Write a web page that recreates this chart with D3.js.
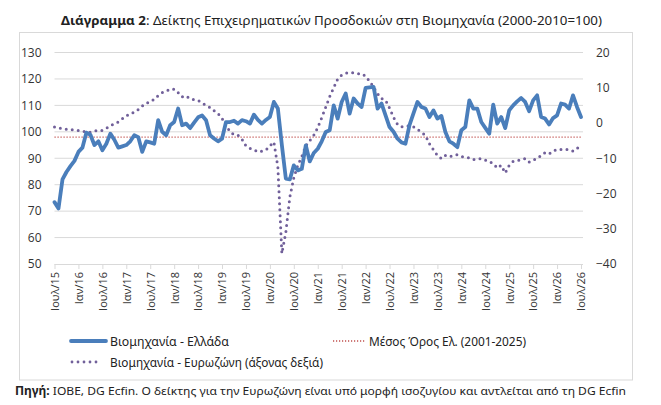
<!DOCTYPE html>
<html>
<head>
<meta charset="utf-8">
<script src="https://cdn.jsdelivr.net/npm/d3@7"></script>
<style>
  body { margin: 0; background: #fff; }
  svg { display: block; }
</style>
</head>
<body>
<div id="chart"></div>
<script>
// tick labels every 6 months, Jul/15 .. Jul/26
const tickLabels = ["Ιουλ/15", "Ιαν/16", "Ιουλ/16", "Ιαν/17", "Ιουλ/17", "Ιαν/18", "Ιουλ/18",
    "Ιαν/19", "Ιουλ/19", "Ιαν/20", "Ιουλ/20", "Ιαν/21", "Ιουλ/21", "Ιαν/22", "Ιουλ/22",
    "Ιαν/23", "Ιουλ/23", "Ιαν/24", "Ιουλ/24", "Ιαν/25", "Ιουλ/25", "Ιαν/26", "Ιουλ/26"];

// monthly values, Greece (left axis)
const greece = [73.4, 71, 82, 84.8, 87, 89, 92.4, 94, 99.7, 98.9, 95, 96.4,
    93, 95.5, 99.3, 97, 94, 94.5, 95, 96.4, 98.7, 98, 92.4, 96.4,
    96, 95.5, 104.4, 100, 98.7, 102.5, 103.7, 108.8, 102.5, 103.1, 101.4, 103.5,
    105.5, 106.2, 104.4, 98.7, 97.5, 96.4, 97.4, 103.7, 103.7, 104.2, 103.1, 104.4,
    104, 103.1, 106.5, 104.5, 103.1, 104.5, 105.6, 111.3, 108.8, 95, 82.3, 82,
    87.3, 85.4, 86, 94.9, 88.8, 92, 93.6, 96.4, 99.9, 100.6, 110, 105,
    111.3, 114.5, 106.9, 112.6, 110.7, 109.4, 116.6, 116.8, 117, 108.8, 110.7, 106.2,
    101.8, 100, 97.4, 96, 95.5, 102.5, 107, 111.3, 109.4, 108.8, 105.6, 108.1,
    105, 106, 99.9, 96.4, 95.5, 94.2, 100.6, 101.8, 111.9, 108.8, 108.8, 103.7,
    101.5, 99.3, 110.3, 103.1, 105.6, 101.4, 108.1, 110, 111.5, 112.8, 111.3, 107.8,
    111.9, 113.8, 105.6, 105, 102.8, 105.2, 106.2, 110.7, 110.3, 108.8, 113.8, 109.4,
    105.6];

// monthly values, Eurozone balance (right axis)
const eurozone = [-1.1, -1.4, -1.6, -1.8, -1.9, -2.0, -2.1, -2.3, -2.5, -2.6, -2.3, -2.1,
    -2.1, -1.5, -0.8, -0.2, 0.3, 1.2, 2.0, 2.7, 3.0, 3.8, 4.8, 5.5,
    6.2, 6.7, 7.8, 8.6, 9.0, 9.6, 9.6, 8.6, 7.4, 7.7, 6.9, 6.6,
    6.4, 5.7, 5.0, 4.4, 3.5, 2.7, 1.3, -0.6, -2.5, -3.3, -3.5, -4.6,
    -6.5, -7.2, -7.6, -8.2, -8.0, -7.7, -6.5, -5.4, -12.5, -37, -31, -21,
    -15.5, -12, -9.5, -6.5, -5, -3.5, -1.3, 1.5, 4.5, 7.5, 10, 12.5,
    13.6, 14.1, 14.3, 14.2, 14.0, 14.0, 13.3, 11.8, 10.2, 8.3, 6.9, 6.5,
    4.2, 1.6, -0.4, -1.1, -1.0, -0.8, -1.1, -1.8, -2.6, -3.5, -5.9, -7.6,
    -9.2, -10.1, -9.2, -9.6, -9.2, -9.0, -9.5, -9.7, -9.9, -10.4, -10.3, -10.1,
    -10.5, -11.0, -11.5, -12.8, -12.0, -14.2, -12.0, -10.9, -10.7, -10.4, -10.1, -11.1,
    -10.5, -10.1, -9.2, -8.4, -8.8, -8.0, -7.5, -7.5, -7.5, -7.6, -8.0, -7.2,
    -6.4];

// Greek long-run average 2001-2025
const greeceMean = 98.0;

const leftTicks = [50, 60, 70, 80, 90, 100, 110, 120, 130];
const rightTicks = [-40, -30, -20, -10, 0, 10, 20];

const width = 661, height = 405;
const plot = {left: 54.5, right: 581, top: 52.5, bottom: 264};

const svg = d3.select("#chart").append("svg")
    .attr("width", width)
    .attr("height", height);

const axisFont = "'Open Sans', 'DejaVu Sans', sans-serif";
const titleFont = "'Noto Sans', 'Open Sans', sans-serif";

// title
const title = svg.append("text")
    .attr("x", 61)
    .attr("y", 25)
    .attr("font-family", titleFont)
    .attr("font-size", 13)
    .attr("fill", "#222")
    .attr("textLength", 541)
    .attr("lengthAdjust", "spacingAndGlyphs");
title.append("tspan").attr("font-weight", "bold").text("Διάγραμμα 2");
title.append("tspan").text(": Δείκτης Επιχειρηματικών Προσδοκιών στη Βιομηχανία (2000-2010=100)");

// chart frame
svg.append("rect")
    .attr("x", 19.5).attr("y", 32.5)
    .attr("width", 613).attr("height", 347.5)
    .attr("fill", "none")
    .attr("stroke", "#d9d9d9");

// scales
const x = d3.scaleLinear().domain([0, greece.length - 1]).range([plot.left, plot.right]);
const yL = d3.scaleLinear().domain([50, 130]).range([plot.bottom, plot.top]);
const yR = d3.scaleLinear().domain([-40, 20]).range([plot.bottom, plot.top]);

// gridlines
svg.append("g").selectAll("line")
    .data(leftTicks.filter(d => d > 50))
    .join("line")
    .attr("x1", plot.left).attr("x2", plot.right + 2)
    .attr("y1", d => yL(d)).attr("y2", d => yL(d))
    .attr("stroke", "#d9d9d9").attr("stroke-width", 1);

// left axis
const leftAxis = svg.append("g")
    .attr("transform", `translate(${plot.left - 13},0)`)
    .call(d3.axisLeft(yL).tickValues(leftTicks).tickSize(0).tickPadding(0));
leftAxis.select(".domain").remove();
leftAxis.selectAll("text")
    .attr("font-family", axisFont).attr("font-size", 12).attr("fill", "#333");

// right axis
const rightAxis = svg.append("g")
    .attr("transform", `translate(${plot.right + 15},0)`)
    .call(d3.axisRight(yR).tickValues(rightTicks).tickSize(0).tickPadding(0));
rightAxis.select(".domain").remove();
rightAxis.selectAll("text")
    .attr("font-family", axisFont).attr("font-size", 12).attr("fill", "#333");

// bottom axis with a tick every six months
const tickIdx = tickLabels.map((d, i) => i * 6);
const xAxis = svg.append("g")
    .attr("transform", `translate(0,${plot.bottom})`)
    .call(d3.axisBottom(x).tickValues(tickIdx).tickSize(5).tickFormat((d, i) => tickLabels[i]));
xAxis.select(".domain")
    .attr("d", `M${plot.left},0.5H${plot.right + 2}`)
    .attr("stroke", "#d9d9d9");
xAxis.selectAll(".tick line").attr("stroke", "#d9d9d9");
xAxis.selectAll("text")
    .attr("font-family", axisFont).attr("font-size", 11).attr("fill", "#333")
    .attr("text-anchor", "end")
    .attr("transform", "rotate(-90)")
    .attr("x", -8).attr("y", 0).attr("dy", "0.35em");

// mean line
svg.append("line")
    .attr("x1", x(0)).attr("x2", x(greece.length - 1))
    .attr("y1", yL(greeceMean)).attr("y2", yL(greeceMean))
    .attr("stroke", "#c0504d").attr("stroke-width", 1.4)
    .attr("stroke-dasharray", "1.2,1.8");

// eurozone dotted line
const lineR = d3.line().x((d, i) => x(i)).y(d => yR(d));
svg.append("path")
    .datum(eurozone)
    .attr("d", lineR)
    .attr("fill", "none")
    .attr("stroke", "#71609a")
    .attr("stroke-width", 3)
    .attr("stroke-linecap", "round")
    .attr("stroke-dasharray", "0,6");

// greece line
const lineL = d3.line().x((d, i) => x(i)).y(d => yL(d));
svg.append("path")
    .datum(greece)
    .attr("d", lineL)
    .attr("fill", "none")
    .attr("stroke", "#4a7ebb")
    .attr("stroke-width", 3.8)
    .attr("stroke-linejoin", "round")
    .attr("stroke-linecap", "round");

// legend
const legend = svg.append("g").attr("font-family", titleFont).attr("font-size", 12).attr("fill", "#222");
legend.append("line")
    .attr("x1", 71).attr("x2", 106).attr("y1", 341).attr("y2", 341)
    .attr("stroke", "#4a7ebb").attr("stroke-width", 3.8).attr("stroke-linecap", "round");
legend.append("text").attr("x", 110).attr("y", 345.5)
    .attr("textLength", 119).attr("lengthAdjust", "spacingAndGlyphs")
    .text("Βιομηχανία  - Ελλάδα");
legend.append("line")
    .attr("x1", 72).attr("x2", 102).attr("y1", 362).attr("y2", 362)
    .attr("stroke", "#71609a").attr("stroke-width", 2.8).attr("stroke-linecap", "round")
    .attr("stroke-dasharray", "0,6");
legend.append("text").attr("x", 110).attr("y", 366.5)
    .attr("textLength", 213).attr("lengthAdjust", "spacingAndGlyphs")
    .text("Βιομηχανία - Ευρωζώνη (άξονας δεξιά)");
legend.append("line")
    .attr("x1", 333).attr("x2", 366).attr("y1", 341).attr("y2", 341)
    .attr("stroke", "#c0504d").attr("stroke-width", 1.4).attr("stroke-dasharray", "1.2,1.8");
legend.append("text").attr("x", 369).attr("y", 345.5)
    .attr("textLength", 157).attr("lengthAdjust", "spacingAndGlyphs")
    .text("Μέσος Όρος Ελ. (2001-2025)");

// source note
const source = svg.append("text")
    .attr("x", 15).attr("y", 395)
    .attr("font-family", titleFont).attr("font-size", 11.5).attr("fill", "#222")
    .attr("textLength", 611).attr("lengthAdjust", "spacingAndGlyphs");
source.append("tspan").attr("font-weight", "bold").text("Πηγή:");
source.append("tspan").text(" IOBE, DG Ecfin. Ο δείκτης για την Ευρωζώνη είναι υπό μορφή ισοζυγίου και αντλείται από τη DG Ecfin");
</script>
</body>
</html>
